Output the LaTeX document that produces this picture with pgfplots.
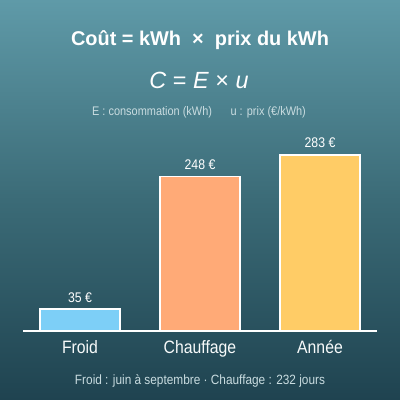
\documentclass[border=0pt]{standalone}
\usepackage{pgfplots}
\pgfplotsset{compat=1.18}
\usepackage{fontspec}
\setmainfont{Liberation Sans}
\newfontfamily\narrow{Liberation Sans}[FakeStretch=0.88]
\usetikzlibrary{shadings}

\definecolor{bgtop}{HTML}{5F9AA8}
\definecolor{bgmid}{HTML}{3B6B77}
\definecolor{bgbot}{HTML}{1F4350}
\definecolor{froid}{HTML}{7DCFF7}
\definecolor{chauf}{HTML}{FFAA77}
\definecolor{annee}{HTML}{FFCC66}
\definecolor{soft}{HTML}{C9DCE0}

\pgfplotstableread{
x val
0 35
}\froidtab
\pgfplotstableread{
x val
1 248
}\chauftab
\pgfplotstableread{
x val
2 283
}\anneetab

\begin{document}
\begin{tikzpicture}[x=1bp,y=1bp]
% fond en dégradé
\shade[top color=bgtop, bottom color=bgbot, middle color=bgmid] (0,0) rectangle (400,-400);

% titres
\node[text=white, font=\fontsize{20}{24}\selectfont\bfseries] at (200,-40) {Coût = kWh \;×\; prix du kWh};
\node[text=white, font=\fontsize{23.5}{28}\selectfont] at (199,-80) {\textit{C} = \textit{E} × \textit{u}};
\node[text=soft, font=\fontsize{12.5}{15}\selectfont\narrow] at (199,-112) {E : consommation (kWh) \quad\ u : prix (€/kWh)};

\begin{axis}[
    at={(23bp,-331bp)}, anchor=south west,
    scale only axis,
    width=354bp, height=191bp,
    xmin=-0.475, xmax=2.475,
    ymin=0, ymax=307,
    axis x line=bottom,
    axis y line=none,
    axis line style={white, line width=1.6bp, -},
    xtick={0,1,2},
    xticklabels={Froid,Chauffage,Année},
    major tick length=0pt,
    xticklabel style={text=white!85!soft, font=\fontsize{18}{21}\selectfont\narrow, yshift=-6bp},
    ytick=\empty,
    ybar, bar width=80bp, bar shift=0pt,
    /pgf/number format/assume math mode=true,
    nodes near coords={\pgfmathprintnumber{\pgfplotspointmeta}~€},
    every node near coord/.append style={text=white, font=\fontsize{14}{16}\selectfont\narrow, yshift=3bp},
    clip=false,
]
\addplot[draw=white, line width=1.5bp, fill=froid] table[x=x, y=val] {\froidtab};
\addplot[draw=white, line width=1.5bp, fill=chauf] table[x=x, y=val] {\chauftab};
\addplot[draw=white, line width=1.5bp, fill=annee] table[x=x, y=val] {\anneetab};
\end{axis}

\node[text=soft, font=\fontsize{13.5}{16}\selectfont\narrow] at (200,-381) {Froid : juin à septembre · Chauffage : 232 jours};
\end{tikzpicture}
\end{document}
